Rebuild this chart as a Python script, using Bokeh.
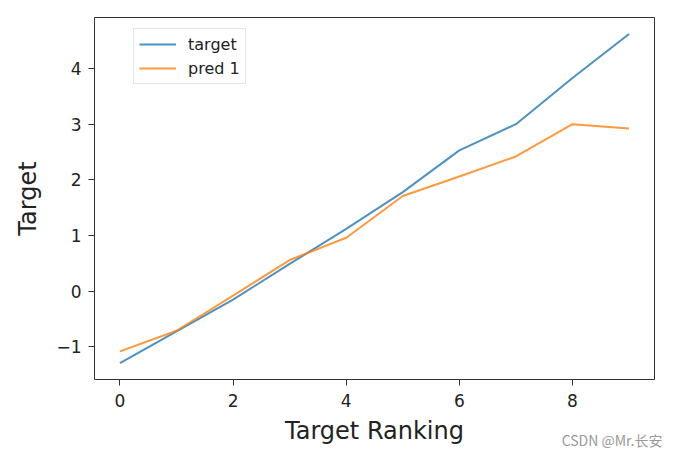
from bokeh.plotting import figure
from bokeh.models import Range1d, Legend, LegendItem, LinearAxis, FixedTicker
from bokeh.embed import file_html
from bokeh.resources import INLINE

ranking = [0, 1, 2, 3, 4, 5, 6, 7, 8, 9]
target = [-1.29, -0.72, -0.15, 0.49, 1.12, 1.78, 2.53, 3.0, 3.83, 4.62]
pred1 = [-1.08, -0.71, -0.08, 0.56, 0.96, 1.71, 2.06, 2.42, 3.0, 2.92]
x_ticks = [0, 2, 4, 6, 8]
y_ticks = [-1, 0, 1, 2, 3, 4]
watermark = "CSDN @Mr.长安"

allv = target + pred1
ymin, ymax = min(allv), max(allv)
ym = (ymax - ymin) * 0.05
xm = (max(ranking) - min(ranking)) * 0.05

FONT = "DejaVu Sans"
p = figure(width=668, height=452, output_backend="svg", toolbar_location=None,
           x_range=Range1d(min(ranking) - xm, max(ranking) + xm),
           y_range=Range1d(ymin - ym, ymax + ym),
           min_border_left=94, min_border_right=14, min_border_top=17, min_border_bottom=71)
p.grid.visible = False
p.outline_line_color = "#333333"
p.outline_line_width = 1
p.background_fill_color = "white"
p.border_fill_color = "white"

for ax in (p.xaxis[0], p.yaxis[0]):
    ax.axis_line_color = None
    ax.major_tick_line_color = "#333333"
    ax.minor_tick_line_color = None
    ax.major_tick_out = 6
    ax.major_tick_in = 0
    ax.major_label_text_font = FONT
    ax.major_label_text_font_size = "17px"
    ax.major_label_text_color = "#222222"
    ax.axis_label_text_font = FONT
    ax.axis_label_text_font_size = "24px"
    ax.axis_label_text_font_style = "normal"
    ax.axis_label_text_color = "#222222"

p.xaxis.ticker = FixedTicker(ticks=x_ticks)
p.yaxis.ticker = FixedTicker(ticks=y_ticks)
p.yaxis.major_label_overrides = {t: (str(t).replace("-", "\u2212")) for t in y_ticks}
p.xaxis.axis_label = "Target Ranking"
p.yaxis.axis_label = "Target"
p.xaxis.major_label_standoff = 8
p.xaxis.axis_label_standoff = 7
p.yaxis.major_label_standoff = 7
p.yaxis.axis_label_standoff = 11

r1 = p.line(ranking, target, line_color="#1f77b4", line_alpha=0.8, line_width=2)
r2 = p.line(ranking, pred1, line_color="#ff7f0e", line_alpha=0.8, line_width=2)

legend = Legend(items=[LegendItem(label="target", renderers=[r1]),
                       LegendItem(label="pred 1", renderers=[r2])],
                location=(39, 295), margin=0, padding=5, spacing=4,
                label_height=20, glyph_height=20, glyph_width=37, label_standoff=12,
                label_text_font=FONT, label_text_font_size="16px", label_text_color="#222222",
                border_line_color="#cccccc", border_line_width=1,
                background_fill_color="white", background_fill_alpha=0.8)
p.add_layout(legend, "center")

# watermark drawn as the single tick label of an otherwise invisible axis
wm_axis = LinearAxis(ticker=FixedTicker(ticks=[8.7]), major_label_overrides={8.7: watermark},
                     axis_line_color=None, major_tick_line_color=None, minor_tick_line_color=None,
                     major_tick_out=0, major_tick_in=0, major_label_standoff=-18,
                     major_label_text_font="Noto Sans CJK SC", major_label_text_font_size="14px",
                     major_label_text_color="#999999")
p.add_layout(wm_axis, "below")

open("out.html", "w").write(file_html(p, INLINE))
